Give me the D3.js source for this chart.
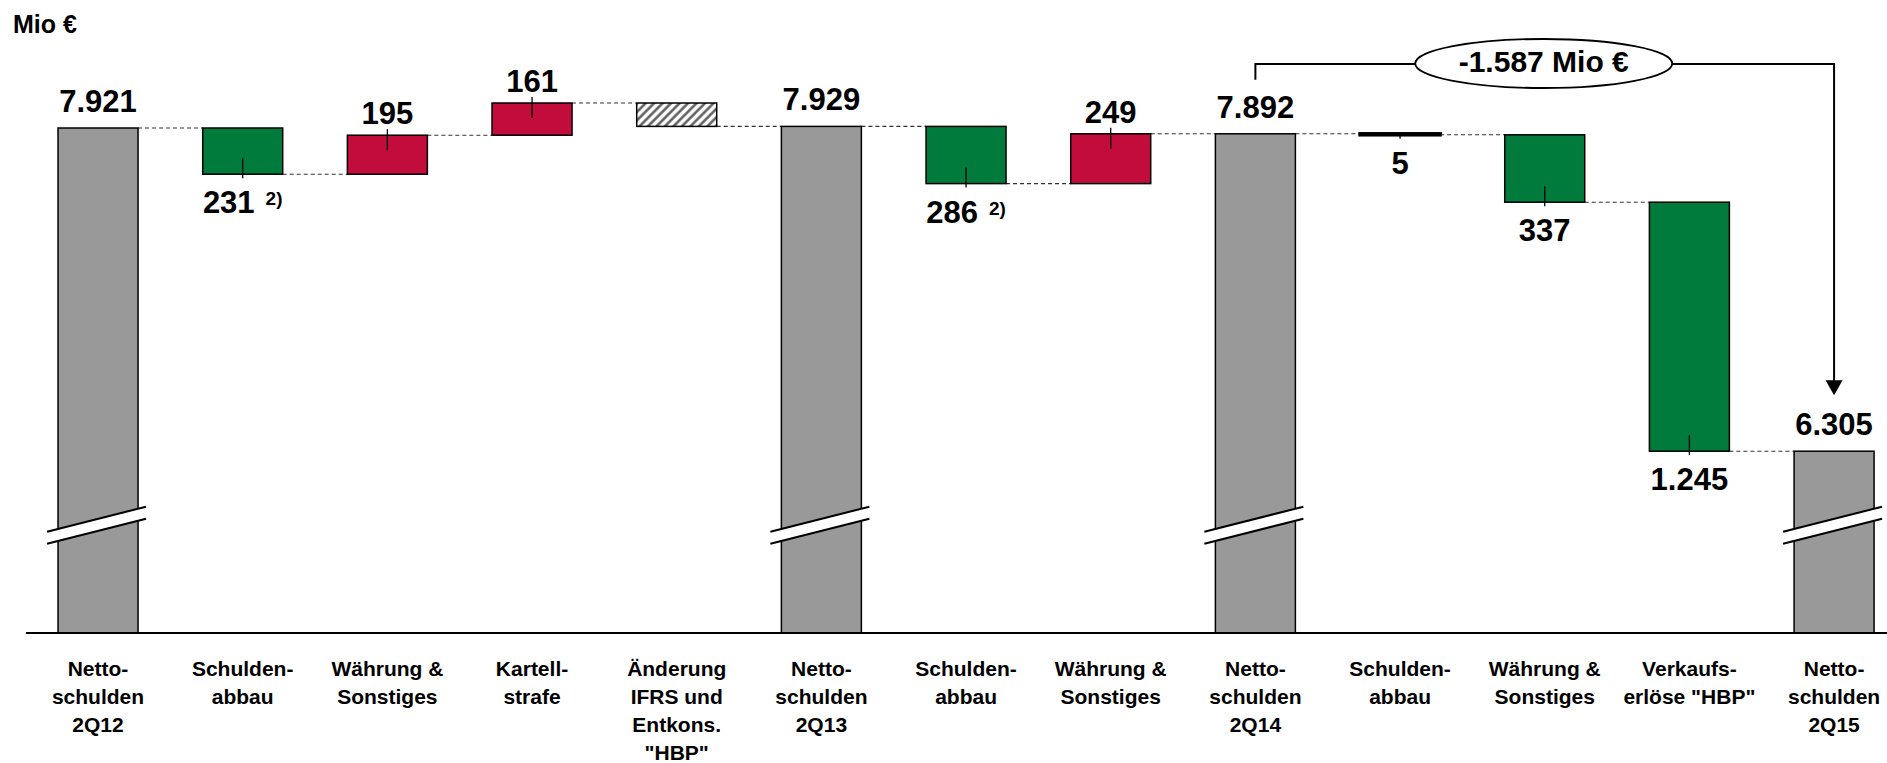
<!DOCTYPE html>
<html>
<head>
<meta charset="utf-8">
<script src="https://cdn.jsdelivr.net/npm/d3@7"></script>
<style>
  html, body { margin: 0; padding: 0; background: #fff; }
  svg { display: block; font-family: "Liberation Sans", Arial, Helvetica, sans-serif; font-weight: bold; }
</style>
</head>
<body>
<svg id="chart" width="1887" height="763"></svg>
<script>
// ---- data ----
const categories = [
  "Netto-|schulden|2Q12", "Schulden-|abbau", "Währung &|Sonstiges", "Kartell-|strafe",
  "Änderung|IFRS und|Entkons.|\"HBP\"", "Netto-|schulden|2Q13", "Schulden-|abbau",
  "Währung &|Sonstiges", "Netto-|schulden|2Q14", "Schulden-|abbau", "Währung &|Sonstiges",
  "Verkaufs-|erlöse \"HBP\"", "Netto-|schulden|2Q15"
];
const values = [7921, -231, 195, 161, -117, 7929, -286, 249, 7892, -5, -337, -1245, 6305];
const kinds  = ["total", "down", "up", "up", "other", "total", "down", "up", "total", "down", "down", "down", "total"];
const valueLabels = ["7.921", "231", "195", "161", "", "7.929", "286", "249", "7.892", "5", "337", "1.245", "6.305"];
const footnotes = ["", "2)", "", "", "", "", "2)", "", "", "", "", "", ""];
const unitLabel = "Mio €";
const totalChangeLabel = "-1.587 Mio €";
const changeFrom = 8, changeTo = 12;   // bracket from 2Q14 to 2Q15
const axisBaseValue = 5396;            // value at the (broken) baseline
const breakValue = 5935;               // where the axis-break marks sit

// ---- running totals ----
let running = 0;
const bars = values.map((v, i) => {
  let start, end;
  if (kinds[i] === "total") { start = axisBaseValue; end = v; running = v; }
  else { start = running; end = running + v; running = end; }
  return { i, cat: categories[i], v, kind: kinds[i], start, end, level: running,
           label: valueLabels[i], note: footnotes[i] };
});

// ---- scales ----
const svg = d3.select("#chart");
const x = d3.scaleBand().domain(d3.range(categories.length))
  .range([25.7, 1906.4]).paddingInner(0.447).paddingOuter(0.2235);
const y = d3.scaleLinear().domain([axisBaseValue, 7921]).range([633, 128]);
const bw = x.bandwidth();

const colors = { total: "#999999", down: "#017B3B", up: "#C20C3C" };

// hatch pattern
const defs = svg.append("defs");
const pat = defs.append("pattern").attr("id", "hatch").attr("patternUnits", "userSpaceOnUse")
  .attr("width", 6).attr("height", 6).attr("patternTransform", "rotate(45)");
pat.append("rect").attr("width", 6).attr("height", 6).attr("fill", "#fff");
pat.append("line").attr("x1", 1.5).attr("y1", 0).attr("x2", 1.5).attr("y2", 6)
  .attr("stroke", "#555").attr("stroke-width", 2.4);

// unit label
svg.append("text").attr("x", 13).attr("y", 33).attr("font-size", 25).text(unitLabel);

// connectors
bars.slice(0, -1).forEach(b => {
  const lvl = y(b.end);
  svg.append("line")
    .attr("x1", x(b.i) + bw).attr("x2", x(b.i + 1))
    .attr("y1", lvl).attr("y2", lvl)
    .attr("stroke", "#333").attr("stroke-width", 1.1).attr("stroke-dasharray", "4,3");
});

// bars
bars.forEach(b => {
  const top = y(Math.max(b.start, b.end)), bottom = y(Math.min(b.start, b.end));
  const h = bottom - top;
  svg.append("rect")
    .attr("x", x(b.i)).attr("y", top).attr("width", bw).attr("height", Math.max(h, 0.5))
    .attr("fill", b.kind === "other" ? "url(#hatch)" : (h < 3 ? "#000" : colors[b.kind]))
    .attr("stroke", "#000").attr("stroke-width", h < 3 ? 3.5 : 1.5);
});

// axis break marks on total bars
const gap = 12, slope = 25;
bars.filter(b => b.kind === "total").forEach(b => {
  const x0 = x(b.i) - 11, x1 = x(b.i) + bw + 8;
  const yc = y(breakValue);
  const yl = yc + slope / 2 - gap / 2, yr = yc - slope / 2 - gap / 2;
  svg.append("polygon")
    .attr("points", [[x0, yl], [x1, yr], [x1, yr + gap], [x0, yl + gap]].map(p => p.join(",")).join(" "))
    .attr("fill", "#fff");
  [0, gap].forEach(o => svg.append("line")
    .attr("x1", x0).attr("y1", yl + o).attr("x2", x1).attr("y2", yr + o)
    .attr("stroke", "#000").attr("stroke-width", 2));
});

// axis baseline
svg.append("line").attr("x1", 26).attr("x2", 1887).attr("y1", y(axisBaseValue)).attr("y2", y(axisBaseValue))
  .attr("stroke", "#000").attr("stroke-width", 2);

// tick marks + value labels
bars.forEach(b => {
  const cx = x(b.i) + bw / 2;
  const top = y(Math.max(b.start, b.end)), bottom = y(Math.min(b.start, b.end));
  const h = bottom - top;
  if (b.kind === "down") {
    svg.append("line").attr("x1", cx).attr("x2", cx)
      .attr("y1", bottom - Math.min(16, h)).attr("y2", bottom + 4)
      .attr("stroke", "#000").attr("stroke-width", 1.3);
  } else if (b.kind === "up") {
    svg.append("line").attr("x1", cx).attr("x2", cx)
      .attr("y1", top - 6).attr("y2", top + 15)
      .attr("stroke", "#000").attr("stroke-width", 1.3);
  }
  if (!b.label) return;
  let ty;
  if (b.kind === "total") ty = top - 16;
  else if (b.kind === "up") ty = top - 11;
  else ty = bottom + 39;
  const t = svg.append("text").attr("x", cx).attr("y", ty).attr("text-anchor", "middle")
    .attr("font-size", 31).attr("fill", "#000");
  t.append("tspan").text(b.label);
  if (b.note) t.append("tspan").attr("font-size", 19).attr("dx", 11).attr("dy", -8).text(b.note);
});

// category labels
bars.forEach(b => {
  const cx = x(b.i) + bw / 2;
  const t = svg.append("text").attr("x", cx).attr("y", 676).attr("text-anchor", "middle")
    .attr("font-size", 21).attr("fill", "#000");
  b.cat.split("|").forEach((line, k) => {
    t.append("tspan").attr("x", cx).attr("y", 676 + k * 28).text(line);
  });
});

// total change bracket with ellipse and arrow
const bx0 = x(changeFrom) + bw / 2, bx1 = x(changeTo) + bw / 2;
const ellCx = x(10) + bw / 2 - 1, ellRx = 128.5, ellRy = 24.5;
const by = 64;
const startTop = y(values[changeFrom]) - 54;
const endTop = y(values[changeTo]) - 56;
svg.append("path")
  .attr("d", `M${bx0},${startTop} V${by} H${ellCx - ellRx}`)
  .attr("fill", "none").attr("stroke", "#000").attr("stroke-width", 2);
svg.append("path")
  .attr("d", `M${ellCx + ellRx},${by} H${bx1} V${endTop - 14}`)
  .attr("fill", "none").attr("stroke", "#000").attr("stroke-width", 2);
svg.append("path")
  .attr("d", `M${bx1 - 8.5},${endTop - 15} L${bx1 + 8.5},${endTop - 15} L${bx1},${endTop} Z`)
  .attr("fill", "#000");
svg.append("ellipse").attr("cx", ellCx).attr("cy", by - 0.5).attr("rx", ellRx).attr("ry", ellRy)
  .attr("fill", "#fff").attr("stroke", "#000").attr("stroke-width", 1.8);
svg.append("text").attr("x", ellCx).attr("y", 72).attr("text-anchor", "middle")
  .attr("font-size", 30).attr("fill", "#000").text(totalChangeLabel);
</script>
</body>
</html>
